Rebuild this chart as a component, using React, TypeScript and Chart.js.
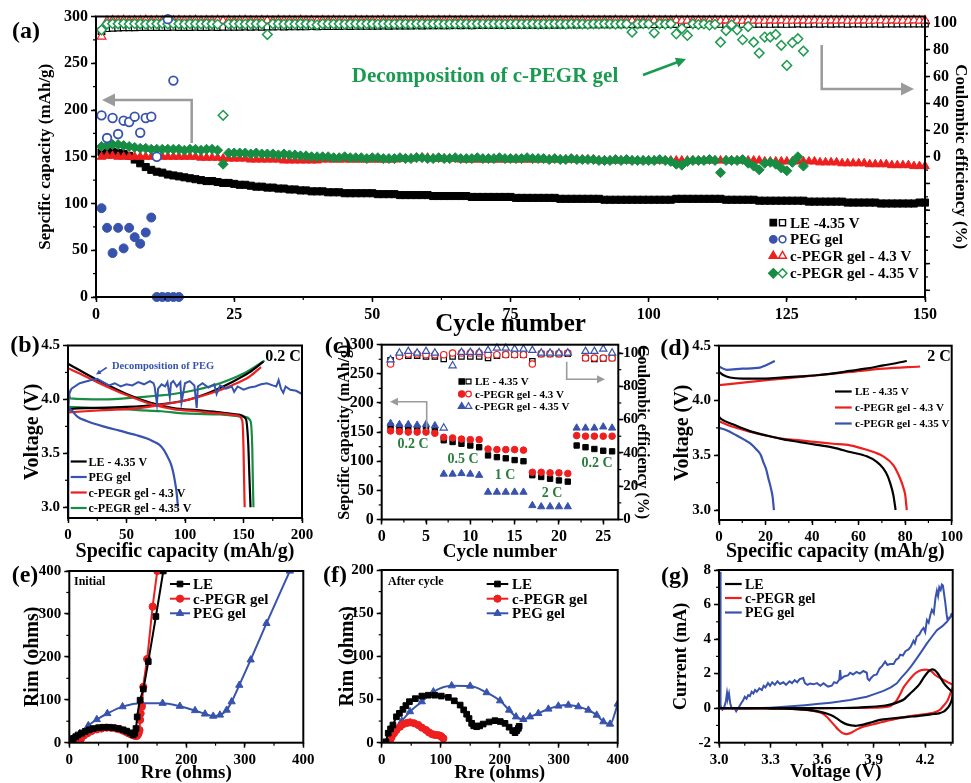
import React, { useEffect, useRef } from 'react';
import { Chart, registerables } from 'chart.js';

Chart.register(...registerables);

const SERIF = '"Liberation Serif", "Times New Roman", Times, serif';
const BLACK = '#000000';
const RED = '#ee1f1f';
const BLUE = '#3853ad';
const GREEN = '#178c43';
const GREEN_OPEN = '#1f9a50';
const GREEN_TEXT = '#1a9a50';
const RATE_GREEN = '#2b7c3c';
const GRAY = '#9b9b9b';
const WHITE = '#ffffff';

// ================= (a) long-term cycling =================
const aXTicks = [0, 25, 50, 75, 100, 125, 150];
const aXLabels = ['0', '25', '50', '75', '100', '125', '150'];
const aYTicks = [0, 50, 100, 150, 200, 250, 300];
const aYLabels = ['0', '50', '100', '150', '200', '250', '300'];
const aY2Ticks = [0, 20, 40, 60, 80, 100];
const aY2Labels = ['0', '20', '40', '60', '80', '100'];

const aLECap = [
  155, 156, 155, 154, 153, 151, 147, 143, 139, 136,
  134, 133, 131, 130, 129, 128, 127, 126, 125, 124,
  124, 123, 122, 122, 121, 120, 120, 119, 118, 118,
  117, 117, 116, 116, 115, 115, 114, 114, 113, 113,
  113, 112, 112, 112, 111, 111, 111, 111, 111, 111,
  110, 110, 110, 110, 109, 109, 109, 109, 109, 109,
  108, 108, 108, 108, 108, 108, 108, 107, 107, 107,
  107, 107, 107, 107, 107, 106, 106, 106, 106, 106,
  106, 106, 106, 105, 105, 105, 105, 105, 105, 105,
  105, 104, 104, 104, 104, 104, 104, 104, 104, 104,
  104, 104, 104, 104, 105, 105, 105, 105, 105, 105,
  105, 105, 105, 104, 104, 104, 104, 104, 104, 103,
  103, 103, 103, 103, 103, 103, 103, 103, 102, 102,
  102, 102, 102, 102, 102, 101, 101, 101, 101, 101,
  101, 100, 100, 100, 100, 100, 100, 100, 101, 101,
];
const aLECE = [
  94, 96.2, 96.5, 96.6, 96.8, 96.8, 96.9, 97, 97, 97,
  97, 97.1, 97, 97.2, 97, 97.1, 97, 97.2, 97.1, 97,
  97.2, 97.1, 97.3, 97.2, 97.3, 97.2, 97.4, 97.3, 97.4, 97.3,
  97.5, 97.4, 97.5, 97.4, 97.6, 97.5, 97.6, 97.5, 97.7, 97.6,
  97.7, 97.8, 97.7, 97.8, 97.9, 97.8, 97.9, 98, 97.9, 98,
  98, 98.1, 98, 98.1, 98.2, 98.1, 98.2, 98.3, 98.2, 98.3,
  98.3, 98.4, 98.3, 98.4, 98.5, 98.4, 98.5, 98.4, 98.5, 98.6,
  98.5, 98.6, 98.6, 98.7, 98.6, 98.7, 98.7, 98.8, 98.7, 98.8,
  98.8, 98.9, 98.8, 98.9, 98.9, 99, 98.9, 99, 99, 99.1,
  99, 99.1, 99.1, 99.2, 99.1, 99.2, 99.2, 99.1, 99.2, 99.3,
  99.2, 99.3, 99.2, 99.3, 99.3, 99.2, 99.3, 99.4, 99.3, 99.4,
  99.3, 99.4, 99.4, 99.3, 99.4, 99.5, 99.4, 99.5, 99.4, 99.5,
  99.5, 99.4, 99.5, 99.5, 99.4, 99.5, 99.6, 99.5, 99.5, 99.6,
  99.5, 99.6, 99.5, 99.6, 99.6, 99.5, 99.6, 99.6, 99.5, 99.6,
  99.6, 99.5, 99.6, 99.6, 99.7, 99.6, 99.6, 99.7, 99.6, 99.7,
];
const aRedCap = [
  150, 151, 151, 150, 150, 150, 150, 150, 150, 150,
  150, 150, 150, 150, 150, 150, 150, 150, 149, 149,
  149, 149, 148, 148, 148, 148, 148, 147, 147, 147,
  147, 147, 147, 146, 146, 146, 146, 146, 146, 146,
  147, 147, 147, 147, 147, 147, 147, 147, 147, 147,
  147, 147, 147, 147, 148, 148, 148, 149, 149, 149,
  148, 148, 148, 148, 148, 147, 147, 147, 147, 147,
  147, 147, 147, 147, 147, 147, 147, 147, 147, 147,
  147, 147, 147, 147, 147, 147, 147, 147, 147, 147,
  146, 146, 146, 146, 146, 146, 146, 146, 146, 146,
  146, 146, 146, 146, 146, 146, 146, 146, 146, 146,
  146, 146, 146, 146, 146, 146, 146, 146, 146, 146,
  145, 145, 145, 145, 145, 145, 145, 145, 145, 145,
  144, 144, 144, 144, 143, 143, 143, 143, 143, 142,
  142, 142, 142, 141, 141, 141, 141, 140, 140, 140,
];
const aRedCE = [
  90, 101.6, 102.1, 101.8, 102.2, 101.7, 102.0, 101.9, 102.3, 101.8,
  102.0, 101.7, 102.2, 101.9, 102.1, 101.8, 102.0, 102.3, 101.7, 102.0,
  101.9, 102.2, 101.8, 102.1, 101.7, 102.0, 102.2, 101.9, 101.8, 102.1,
  102.0, 101.7, 102.2, 101.9, 102.1, 101.8, 102.3, 101.9, 102.0, 101.7,
  102.1, 101.9, 102.2, 101.8, 102.0, 101.7, 102.2, 101.9, 102.1, 101.8,
  102.0, 102.3, 101.8, 102.1, 101.9, 102.0, 101.7, 102.2, 101.9, 102.0,
  101.8, 102.1, 101.9, 102.2, 101.7, 102.0, 101.9, 102.1, 101.8, 102.2,
  102.0, 101.8, 102.1, 101.9, 102.2, 101.7, 102.0, 101.9, 102.1, 101.8,
  102.0, 102.2, 101.8, 102.1, 101.9, 102.0, 101.7, 102.2, 101.9, 102.0,
  101.8, 102.1, 101.9, 102.2, 101.8, 102.0, 101.9, 102.1, 101.7, 102.2,
  102.0, 101.8, 102.1, 101.9, 102.2, 101.8, 102.0, 101.9, 102.1, 101.8,
  102.0, 102.2, 101.8, 102.1, 101.9, 102.0, 101.8, 102.2, 101.9, 102.0,
  101.8, 102.1, 101.9, 102.2, 101.8, 102.0, 101.9, 102.1, 101.8, 102.2,
  102.0, 101.8, 102.1, 101.9, 102.2, 101.8, 102.0, 101.9, 102.1, 101.8,
  102.0, 102.2, 101.8, 102.1, 101.9, 102.0, 101.8, 102.2, 101.9, 102.0,
];
const aGreenCap = [
  161, 162, 163, 163, 162, 161, 160, 159, 159, 158,
  158, 158, 158, 158, 158, 157, 158, 158, 157, 158,
  158, 157, 142, 154, 154, 154, 154, 153, 154, 153,
  153, 153, 152, 153, 152, 152, 151, 151, 150, 150,
  150, 150, 149, 149, 150, 149, 149, 149, 148, 149,
  149, 148, 148, 148, 149, 148, 148, 149, 149, 148,
  148, 149, 148, 148, 149, 148, 148, 148, 149, 148,
  148, 148, 149, 148, 148, 148, 148, 149, 148, 148,
  148, 147, 148, 147, 147, 148, 147, 147, 147, 147,
  146, 146, 146, 147, 146, 147, 146, 146, 146, 146,
  146, 147, 146, 145, 142, 141, 145, 146, 146, 146,
  147, 146, 133, 146, 146, 146, 147, 143, 140, 136,
  143, 144, 142, 138, 135, 144, 150, 140,
];
const aGreenCE = [
  95, 99.4, 99.6, 99.5, 99.7, 99.4, 99.6, 99.5, 99.3, 99.6,
  99.5, 99.7, 99.4, 99.6, 99.5, 99.3, 99.6, 99.5, 99.4, 99.6,
  99.5, 99.2, 31, 99.4, 99.6, 99.5, 99.3, 99.6, 99.5, 99.4,
  91.5, 99.5, 99.6, 99.3, 99.5, 99.4, 99.6, 99.5, 99.3, 98.8,
  99.5, 99.6, 99.4, 99.5, 99.3, 99.6, 99.5, 99.4, 99.6, 99.5,
  99.3, 99.6, 99.5, 99.4, 99.6, 99.5, 99.3, 99.5, 99.6, 99.4,
  99.5, 99.6, 99.3, 99.5, 99.4, 99.6, 99.5, 99.3, 99.6, 99.5,
  99.4, 99.6, 99.5, 99.3, 99.5, 99.6, 99.4, 99.5, 99.6, 99.3,
  99.5, 99.4, 99.6, 99.5, 99.3, 99.6, 99.5, 99.4, 99.2, 99.5,
  99.4, 99.6, 99.5, 99.3, 99.5, 99.4, 93.3, 99.5, 99.6, 99.4,
  92.8, 99.5, 99.3, 99.6, 92.0, 96.0, 90.8, 99.5, 99.0, 99.4,
  98.5, 99.2, 85.8, 94.5, 98.8, 95.0, 87.6, 97.5, 85.8, 77.6,
  89.6, 89.6, 91.6, 83.4, 68.4, 85.4, 88.4, 79.1,
];
const aPegCap = [95, 74, 47, 74, 52, 74, 64, 57, 69, 85, 0, 0, 0, 0, 0];
const aPegCE = [31, 14, 29, 17, 27, 26, 30, 18, 29, 30, 0, null, 103, 57, null];

// ================= (b) 0.2 C profiles =================
const bXTicks = [0, 50, 100, 150, 200];
const bXLabels = ['0', '50', '100', '150', '200'];
const bYTicks = [3, 3.5, 4, 4.5];
const bYLabels = ['3.0', '3.5', '4.0', '4.5'];
const bLEChg = [[0, 3.9], [2, 3.91], [20, 3.92], [50, 3.93], [75, 3.95], [100, 3.99], [120, 4.06], [140, 4.16], [155, 4.25], [167, 4.35]];
const bLEDis = [[0, 4.33], [10, 4.27], [27, 4.17], [50, 4.05], [70, 3.97], [90, 3.92], [110, 3.9], [130, 3.88], [145, 3.86], [152, 3.82], [154, 3.6], [155, 3.3], [156, 3.0]];
const bRedChg = [[0, 3.88], [30, 3.9], [60, 3.92], [80, 3.95], [100, 3.99], [120, 4.05], [140, 4.13], [155, 4.21], [165, 4.3]];
const bRedDis = [[0, 4.29], [10, 4.24], [25, 4.16], [50, 4.04], [70, 3.96], [90, 3.91], [110, 3.89], [130, 3.87], [145, 3.85], [149, 3.8], [150, 3.55], [150.5, 3.25], [151, 3.0]];
const bGrnChg = [[0, 4.1], [2, 4.01], [30, 4.0], [60, 4.02], [90, 4.05], [110, 4.09], [130, 4.15], [150, 4.24], [168, 4.36]];
const bGrnDis = [[0, 3.93], [30, 3.92], [60, 3.9], [80, 3.89], [100, 3.87], [130, 3.86], [150, 3.84], [156, 3.8], [157.5, 3.55], [158, 3.25], [158.5, 3.0]];
const bPegChg = [[0, 2.92], [0.3, 3.9], [1, 4.05], [3, 4.1], [10, 4.15], [20, 4.18], [25, 4.19], [30, 4.16], [35, 4.13], [40, 4.15], [45, 4.12], [50, 4.14], [55, 4.13], [60, 4.16], [65, 4.14], [70, 4.17], [73, 4.15], [74, 4.12], [76, 3.96], [77, 4.1], [80, 4.14], [83, 4.12], [85, 4.16], [87, 4.02], [88, 4.15], [90, 4.17], [93, 4.12], [96, 4.16], [97, 3.97], [100, 4.15], [104, 4.17], [108, 4.13], [110, 3.92], [111, 4.12], [115, 4.15], [120, 4.11], [125, 4.14], [127, 4.05], [130, 4.13], [135, 4.1], [140, 4.12], [142, 4.07], [145, 4.12], [150, 4.09], [155, 4.11], [160, 4.12], [165, 4.14], [170, 4.15], [175, 4.13], [178, 4.12], [180, 4.18], [182, 4.1], [184, 4.06], [186, 4.12], [190, 4.09], [195, 4.08], [200, 4.05]];
const bPegDis = [[0, 3.92], [3, 3.9], [8, 3.84], [16, 3.8], [30, 3.75], [44, 3.71], [58, 3.67], [67, 3.64], [73, 3.61], [78, 3.58], [82, 3.53], [85, 3.47], [88, 3.4], [90, 3.32], [92, 3.2], [93, 3.12], [94, 3.0]];

// ================= (c) rate capability =================
const cXTicks = [0, 5, 10, 15, 20, 25];
const cXLabels = ['0', '5', '10', '15', '20', '25'];
const cYTicks = [0, 50, 100, 150, 200, 250, 300];
const cYLabels = ['0', '50', '100', '150', '200', '250', '300'];
const cY2Ticks = [0, 20, 40, 60, 80, 100];
const cY2Labels = ['0', '20', '40', '60', '80', '100'];
const cCycles = [1, 2, 3, 4, 5, 6, 7, 8, 9, 10, 11, 12, 13, 14, 15, 16, 17, 18, 19, 20, 21, 22, 23, 24, 25, 26];
const cLECap = [160, 158, 158, 157, 156, 153, 136, 133, 130, 127, 124, 110, 107, 105, 102, 100, 76, 73, 70, 67, 65, 127, 124, 121, 118, 117];
const cRedCap = [152, 151, 150, 150, 150, 148, 141, 140, 138, 137, 137, 121, 120, 120, 120, 119, 81, 81, 80, 80, 79, 144, 143, 143, 143, 143];
const cBluCap = [165, 163, 163, 162, 163, 161, 78, 78, 79, 78, 76, 47, 47, 47, 47, 47, 24, 22, 22, 22, 22, 157, 157, 157, 159, 157];
const cLECE = [95.6, 98.4, 98.4, 98.4, 98, 98, 96.4, 98, 98, 98, 98, 97, 98.4, 99, 99, 99, 95, 99.4, 99.4, 99.4, 99.6, null, 97, 96.4, 96.8, 97];
const cRedCE = [93.4, 98, 99.4, 99.4, 99, 99, 99, 100, 100, 100, 100, 99, 99, 99, 99, 99, 93.4, 99.6, 99.6, 99.6, 100, null, 97, 97, 97, 97];
const cBluCE = [96, 100, 101, 100, 101, 100, 55, 92.4, 100.4, 100.4, 100.4, 101.6, 103, 103, 102.4, 102.4, 101.6, 100, 100, 100, 100, null, 101, 101, 102.4, 100];

// ================= (d) 2 C profiles =================
const dXTicks = [0, 20, 40, 60, 80, 100];
const dXLabels = ['0', '20', '40', '60', '80', '100'];
const dYTicks = [3, 3.5, 4, 4.5];
const dYLabels = ['3.0', '3.5', '4.0', '4.5'];
const dLEChg = [[0, 4.26], [2, 4.23], [4.7, 4.21], [10, 4.2], [20, 4.2], [27.7, 4.21], [35, 4.22], [42, 4.23], [50, 4.25], [56.3, 4.27], [63, 4.29], [70.6, 4.32], [76, 4.34], [80.7, 4.36]];
const dLEDis = [[0, 3.85], [1, 3.83], [6.2, 3.78], [13.3, 3.72], [20.5, 3.68], [27.7, 3.645], [34.8, 3.62], [42, 3.595], [49.1, 3.57], [56.3, 3.53], [63.5, 3.49], [67.8, 3.44], [70.6, 3.38], [72.5, 3.31], [73.5, 3.25], [74.9, 3.14], [75.9, 3.0]];
const dRedChg = [[0, 4.14], [13.3, 4.17], [27.7, 4.2], [42, 4.23], [56.3, 4.26], [70.6, 4.29], [86.4, 4.31]];
const dRedDis = [[0, 3.81], [6, 3.76], [13.3, 3.715], [20, 3.68], [27.7, 3.65], [35, 3.635], [42, 3.62], [49, 3.605], [56.3, 3.59], [63.5, 3.55], [67, 3.525], [70.6, 3.49], [74.9, 3.41], [77.8, 3.29], [79.3, 3.2], [80, 3.14], [80.7, 3.0]];
const dBluChg = [[0, 4.31], [3.3, 4.28], [10, 4.29], [17.6, 4.3], [20, 4.32], [24, 4.36]];
const dBluDis = [[0, 3.75], [3, 3.73], [7.6, 3.68], [11, 3.64], [13.3, 3.61], [16.2, 3.55], [18, 3.5], [19, 3.44], [20.3, 3.37], [21.2, 3.29], [22.3, 3.2], [23.1, 3.11], [23.6, 3.0]];

// ================= (e) impedance, initial =================
const eXTicks = [0, 100, 200, 300, 400];
const eXLabels = ['0', '100', '200', '300', '400'];
const eYTicks = [0, 100, 200, 300, 400];
const eYLabels = ['0', '100', '200', '300', '400'];
const eLE = [[1, 0], [4, 5], [7, 10], [11, 14], [15, 18], [21, 22], [27, 26], [34, 30], [41, 33], [50, 35], [58, 36], [66, 36], [75, 35], [84, 33], [92, 30], [98, 27], [104, 23], [109, 18], [112, 22], [114, 33], [116, 60], [121, 99], [126.5, 125], [135, 189], [148, 294], [160.7, 400]];
const eRed = [[18, 0], [19, 6], [21, 12], [25, 17], [31, 22], [38, 27], [47, 31], [55, 33], [64, 35], [72, 34.5], [80, 33], [86, 31], [92, 28], [97, 25], [101, 22], [105, 20], [109, 18], [112, 16], [115, 15.5], [117, 18], [118.5, 22], [120, 29.5], [121, 53], [122, 68], [124, 84], [126.5, 130], [133, 195], [142.5, 317], [150.4, 400]];
const ePEG = [[8, 0], [18, 22], [32.5, 40], [47, 54], [65, 68], [91, 84], [124, 92], [159.5, 92], [189, 85], [215, 75], [232, 67], [246, 62], [257.5, 64.5], [269, 76], [277.5, 95.5], [290.6, 134], [310, 193], [337, 278], [377, 400]];

// ================= (f) impedance, after cycle =================
const fXTicks = [0, 100, 200, 300, 400];
const fXLabels = ['0', '100', '200', '300', '400'];
const fYTicks = [0, 50, 100, 150, 200];
const fYLabels = ['0', '50', '100', '150', '200'];
const fLE = [[7, 1], [11, 11], [15, 16], [19, 20.5], [25, 30], [30, 34], [36, 38.6], [41, 43], [47, 47.5], [57, 51], [68, 54], [79, 55], [90, 55], [101, 54], [113, 52.5], [123, 48.5], [133, 43.6], [139, 38], [144, 33], [148, 28], [152.5, 22.4], [156, 19.5], [161, 18.5], [166, 19.5], [172, 21.6], [182, 24], [192, 25.5], [201, 24.5], [209, 22.4], [216, 18], [222, 14], [226, 11.6], [229, 14], [231.6, 16.6], [233, 19]];
const fRed = [[13, 1], [15, 4], [17, 7], [21, 11], [25, 14.7], [31, 18.5], [37, 21.6], [43, 23], [48, 23.5], [55, 22.5], [62, 20.5], [68, 17.5], [75, 14.7], [80, 12], [85, 10], [89, 9.2], [93, 8.9], [97, 8.5], [100, 7.7], [102, 6.5], [104.5, 5]];
const fPEG = [[8.5, 1], [14, 7.7], [22.6, 14.7], [34, 25], [48, 36], [68, 47.5], [87.6, 59], [118.6, 66], [150, 65.6], [178, 58], [200.6, 48.6], [216, 37.8], [227.7, 30], [240, 27], [251.4, 30], [265.5, 34], [282.5, 39], [299.4, 42.5], [316.4, 43.6], [333.3, 41.7], [350.3, 37.8], [364.4, 32], [375.7, 24.3], [387, 21.6], [400, 44.8]];

// ================= (g) cyclic voltammetry =================
const gXTicks = [3.0, 3.3, 3.6, 3.9, 4.2];
const gXLabels = ['3.0', '3.3', '3.6', '3.9', '4.2'];
const gYTicks = [-2, 0, 2, 4, 6, 8];
const gYLabels = ['-2', '0', '2', '4', '6', '8'];
const gLE = [[3.0, 0], [3.3, 0], [3.5, 0], [3.7, 0.01], [3.763, 0.02], [3.85, 0.06], [3.957, 0.14], [4.0, 0.22], [4.035, 0.32], [4.075, 0.5], [4.113, 0.85], [4.145, 1.15], [4.17, 1.44], [4.19, 1.75], [4.21, 2.02], [4.225, 2.17], [4.24, 2.25], [4.255, 2.2], [4.27, 2.05], [4.29, 1.75], [4.307, 1.47], [4.33, 1.2], [4.346, 1.05], [4.36, 0.9], [4.358, 0.6], [4.348, 0.3], [4.336, 0.08], [4.32, -0.1], [4.307, -0.2], [4.28, -0.3], [4.249, -0.34], [4.2, -0.4], [4.151, -0.46], [4.1, -0.5], [4.054, -0.55], [4.0, -0.6], [3.957, -0.65], [3.92, -0.72], [3.88, -0.84], [3.84, -0.95], [3.8, -1.02], [3.77, -1.0], [3.744, -0.94], [3.715, -0.8], [3.685, -0.59], [3.65, -0.4], [3.608, -0.26], [3.55, -0.14], [3.47, -0.07], [3.378, -0.03], [3.278, -0.02], [3.15, -0.01], [3.0, 0]];
const gRed = [[3.0, 0], [3.5, 0], [3.8, 0.01], [3.9, 0.03], [3.96, 0.06], [3.996, 0.12], [4.015, 0.25], [4.035, 0.47], [4.055, 0.82], [4.074, 1.2], [4.1, 1.55], [4.132, 1.92], [4.155, 2.1], [4.18, 2.21], [4.2, 2.23], [4.22, 2.21], [4.24, 2.1], [4.258, 1.92], [4.28, 1.78], [4.307, 1.63], [4.335, 1.48], [4.36, 1.34], [4.36, 1.24], [4.35, 0.95], [4.338, 0.62], [4.326, 0.37], [4.305, 0.12], [4.287, -0.08], [4.26, -0.22], [4.23, -0.3], [4.17, -0.39], [4.113, -0.46], [4.06, -0.55], [4.016, -0.65], [3.97, -0.75], [3.92, -0.88], [3.88, -0.97], [3.84, -1.07], [3.81, -1.2], [3.78, -1.36], [3.76, -1.46], [3.74, -1.5], [3.725, -1.47], [3.715, -1.42], [3.695, -1.25], [3.676, -1.04], [3.65, -0.75], [3.627, -0.5], [3.6, -0.3], [3.569, -0.21], [3.52, -0.12], [3.452, -0.06], [3.3, -0.02], [3.0, 0]];
const gPEG = [[3.0, 0], [3.005, 0.1], [3.007, 7.9], [3.009, 0.2], [3.014, -0.05], [3.02, -0.1], [3.03, 0.05], [3.04, 0.4], [3.047, 0.9], [3.052, 0.6], [3.058, 0.85], [3.065, 0.3], [3.072, 0.05], [3.08, -0.05], [3.09, 0.0], [3.1, -0.18], [3.108, -0.05], [3.118, 0.1], [3.13, 0.3], [3.14, 0.45], [3.15, 0.66], [3.16, 0.55], [3.17, 0.75], [3.18, 0.7], [3.19, 0.95], [3.2, 0.85], [3.21, 1.05], [3.22, 0.95], [3.235, 1.15], [3.25, 1.05], [3.26, 1.3], [3.27, 1.2], [3.285, 1.45], [3.297, 1.3], [3.31, 1.5], [3.325, 1.35], [3.34, 1.55], [3.355, 1.4], [3.375, 1.5], [3.39, 1.35], [3.41, 1.55], [3.425, 1.45], [3.44, 1.62], [3.455, 1.5], [3.47, 1.68], [3.49, 1.75], [3.5, 1.45], [3.515, 1.35], [3.53, 1.42], [3.55, 1.38], [3.57, 1.45], [3.59, 1.3], [3.608, 1.44], [3.62, 1.35], [3.635, 1.25], [3.656, 1.3], [3.67, 1.5], [3.685, 1.45], [3.7, 1.65], [3.705, 2.2], [3.71, 1.7], [3.73, 1.85], [3.75, 1.9], [3.763, 2.05], [3.78, 1.95], [3.8, 2.1], [3.82, 2.0], [3.84, 2.15], [3.86, 2.05], [3.865, 1.7], [3.875, 1.6], [3.885, 1.75], [3.9, 1.9], [3.918, 1.95], [3.935, 2.3], [3.95, 2.45], [3.967, 2.7], [3.98, 2.5], [3.995, 2.55], [4.016, 2.55], [4.03, 2.8], [4.045, 2.9], [4.054, 3.1], [4.07, 3.05], [4.085, 3.3], [4.103, 3.4], [4.115, 3.55], [4.132, 3.9], [4.14, 3.75], [4.151, 4.15], [4.165, 4.25], [4.178, 4.5], [4.19, 4.65], [4.2, 4.4], [4.21, 5.1], [4.22, 4.95], [4.23, 5.4], [4.239, 5.7], [4.25, 5.5], [4.26, 6.4], [4.268, 6.8], [4.275, 6.5], [4.282, 7.0], [4.29, 6.85], [4.297, 7.15], [4.303, 7.1], [4.31, 6.6], [4.317, 6.1], [4.325, 5.4], [4.33, 5.1], [4.34, 5.25], [4.35, 5.3], [4.355, 5.5], [4.345, 5.25], [4.326, 5.0], [4.3, 4.75], [4.268, 4.52], [4.24, 4.15], [4.21, 3.75], [4.18, 3.3], [4.151, 2.88], [4.12, 2.45], [4.093, 2.11], [4.06, 1.75], [4.035, 1.44], [4.0, 1.2], [3.957, 1.0], [3.9, 0.8], [3.86, 0.66], [3.8, 0.54], [3.763, 0.47], [3.7, 0.38], [3.65, 0.32], [3.569, 0.24], [3.5, 0.17], [3.4, 0.09], [3.3, 0.03], [3.2, -0.01], [3.1, -0.04], [3.0, -0.04]];

// ================= helpers =================
const seq = (ys: (number | null)[]) => ys.map((y, i) => ({ x: i + 1, y })).filter((p) => p.y !== null);
const onX = (xs: number[], ys: (number | null)[]) => xs.map((x, i) => ({ x, y: ys[i] })).filter((p) => p.y !== null);
const xy = (pairs: number[][]) => pairs.map(([x, y]) => ({ x, y }));

function drawMarker(ctx: CanvasRenderingContext2D, shape: string, x: number, y: number, r: number, fill: string, stroke: string, lw: number) {
  ctx.save();
  ctx.beginPath();
  if (shape === 'rect') {
    const s = r * Math.SQRT1_2;
    ctx.rect(x - s, y - s, 2 * s, 2 * s);
  } else if (shape === 'circle') {
    ctx.arc(x, y, r, 0, Math.PI * 2);
  } else if (shape === 'triangle') {
    ctx.moveTo(x, y - r);
    ctx.lineTo(x + r * 0.866, y + r * 0.5);
    ctx.lineTo(x - r * 0.866, y + r * 0.5);
    ctx.closePath();
  } else {
    ctx.moveTo(x, y - r);
    ctx.lineTo(x + r, y);
    ctx.lineTo(x, y + r);
    ctx.lineTo(x - r, y);
    ctx.closePath();
  }
  ctx.fillStyle = fill;
  ctx.fill();
  ctx.lineWidth = lw;
  ctx.strokeStyle = stroke;
  ctx.stroke();
  ctx.restore();
}

function drawArrow(ctx: CanvasRenderingContext2D, pts: number[][], color: string, lw: number, head: number) {
  const n = pts.length;
  const [x1, y1] = pts[n - 2];
  const [x2, y2] = pts[n - 1];
  const ang = Math.atan2(y2 - y1, x2 - x1);
  const c = Math.cos(ang);
  const s = Math.sin(ang);
  ctx.save();
  ctx.strokeStyle = color;
  ctx.fillStyle = color;
  ctx.lineWidth = lw;
  ctx.beginPath();
  ctx.moveTo(pts[0][0], pts[0][1]);
  for (let i = 1; i < n - 1; i++) ctx.lineTo(pts[i][0], pts[i][1]);
  ctx.lineTo(x2 - c * head * 0.8, y2 - s * head * 0.8);
  ctx.stroke();
  ctx.beginPath();
  ctx.moveTo(x2, y2);
  ctx.lineTo(x2 - head * c + head * 0.5 * s, y2 - head * s - head * 0.5 * c);
  ctx.lineTo(x2 - head * c - head * 0.5 * s, y2 - head * s + head * 0.5 * c);
  ctx.closePath();
  ctx.fill();
  ctx.restore();
}

function makeDeco(cfg: any) {
  return {
    id: 'deco',
    afterDraw(chart: any) {
      const ctx: CanvasRenderingContext2D = chart.ctx;
      const ca = chart.chartArea;
      ctx.save();
      ctx.strokeStyle = '#000';
      (cfg.minor || []).forEach((m: any) => {
        const sc = chart.scales[m.id];
        const len = m.len || 3;
        ctx.lineWidth = m.len ? 1.5 : 1.2;
        for (let v = m.from; v <= m.to + 1e-9; v += m.step) {
          const p = sc.getPixelForValue(v);
          ctx.beginPath();
          if (sc.position === 'left') { ctx.moveTo(ca.left, p); ctx.lineTo(ca.left - len, p); }
          else if (sc.position === 'right') { ctx.moveTo(ca.right, p); ctx.lineTo(ca.right + len, p); }
          else { ctx.moveTo(p, ca.bottom); ctx.lineTo(p, ca.bottom + len); }
          ctx.stroke();
        }
      });
      ctx.lineWidth = 2;
      ctx.strokeRect(ca.left, ca.top, ca.right - ca.left, ca.bottom - ca.top);
      const [ox, oy] = cfg.origin;
      ctx.translate(-ox, -oy);
      (cfg.arrows || []).forEach((a: any) => drawArrow(ctx, a.pts, a.color, a.lw, a.head));
      const lg = cfg.legend;
      if (lg) {
        lg.rows.forEach((r: any) => {
          if (lg.line) {
            ctx.save();
            ctx.strokeStyle = r.color;
            ctx.lineWidth = lg.line.w;
            ctx.beginPath();
            ctx.moveTo(lg.line.x1, r.y);
            ctx.lineTo(lg.line.x2, r.y);
            ctx.stroke();
            ctx.restore();
            if (r.shape) drawMarker(ctx, r.shape, (lg.line.x1 + lg.line.x2) / 2, r.y, r.r, r.color, r.color, 1);
          }
          (r.markers || []).forEach((m: any) => drawMarker(ctx, m.shape, m.x, r.y, m.r, m.fill, m.stroke, m.lw || 1.2));
          ctx.font = `bold ${lg.size}px ${SERIF}`;
          ctx.fillStyle = '#000';
          ctx.textAlign = 'left';
          ctx.textBaseline = 'middle';
          ctx.fillText(r.text, lg.tx, r.y + 1);
        });
      }
      (cfg.texts || []).forEach((t: any) => {
        ctx.font = `bold ${t.size}px ${SERIF}`;
        ctx.fillStyle = t.color || '#000';
        ctx.textAlign = t.align || 'center';
        ctx.textBaseline = 'middle';
        ctx.fillText(t.text, t.x, t.y);
      });
      ctx.restore();
    },
  };
}

function linAxis(p: any) {
  const vertical = p.pos === 'left' || p.pos === 'right';
  return {
    type: 'linear',
    position: p.pos,
    min: p.min,
    max: p.max,
    afterBuildTicks: (s: any) => { s.ticks = p.ticks.map((v: number) => ({ value: v })); },
    afterFit: (s: any) => {
      if (vertical) s.width = p.fit; else s.height = p.fit;
      s.paddingTop = 0; s.paddingBottom = 0; s.paddingLeft = 0; s.paddingRight = 0;
    },
    ticks: {
      autoSkip: false, maxRotation: 0, minRotation: 0, padding: p.tickPad ?? 3, color: '#000',
      font: { family: SERIF, size: p.size, weight: 'bold' },
      callback: (_v: any, i: number) => p.labels[i],
    },
    grid: { display: true, drawOnChartArea: false, drawTicks: true, tickLength: 5, tickWidth: 1.5, tickColor: '#000' },
    border: { display: false },
    title: p.title
      ? {
          display: true, text: p.title, color: '#000',
          font: { family: SERIF, size: p.tsize, weight: 'bold', lineHeight: 1 },
          padding: vertical ? { top: p.tpad, bottom: 0 } : { top: 0, bottom: p.tpad },
        }
      : { display: false },
  };
}

function baseConfig(datasets: any[], scales: any, padding: any, deco: any) {
  return {
    type: 'scatter',
    data: { datasets },
    options: {
      animation: false, responsive: false, devicePixelRatio: 1, events: [],
      layout: { padding, autoPadding: false },
      plugins: { legend: { display: false }, tooltip: { enabled: false } },
      scales,
    },
    plugins: [makeDeco(deco)],
  };
}

const dots = (label: string, data: any[], shape: string, r: number, fill: string, stroke: string, bw: number, yAxisID = 'y') => ({
  label, data, showLine: false, pointStyle: shape, pointRadius: r, pointHoverRadius: r,
  backgroundColor: fill, borderColor: stroke, pointBackgroundColor: fill, pointBorderColor: stroke,
  pointBorderWidth: bw, borderWidth: bw, yAxisID, clip: false,
});

const curve = (label: string, data: any[], color: string, o: any = {}) => ({
  label, data, showLine: true, fill: false,
  pointRadius: o.r || 0, pointHoverRadius: o.r || 0, pointStyle: o.shape || 'circle',
  pointBackgroundColor: color, pointBorderColor: color, pointBorderWidth: 1,
  borderColor: color, backgroundColor: color, borderWidth: o.w || 2,
  tension: o.mono ? 0.4 : (o.tension || 0),
  cubicInterpolationMode: o.mono ? 'monotone' : 'default',
});

// ================= panel configs =================
function configA() {
  const ds = [
    dots('PEG gel', seq(aPegCap), 'circle', 4.5, BLUE, BLUE, 1),
    dots('PEG gel CE', seq(aPegCE), 'circle', 4.3, WHITE, BLUE, 1.8, 'y2'),
    dots('c-PEGR gel - 4.35 V', seq(aGreenCap), 'rectRot', 5, GREEN, GREEN, 1),
    dots('c-PEGR gel - 4.35 V CE', seq(aGreenCE), 'rectRot', 4.8, WHITE, GREEN_OPEN, 1.5, 'y2'),
    dots('c-PEGR gel - 4.3 V', seq(aRedCap), 'triangle', 5, RED, RED, 1),
    dots('c-PEGR gel - 4.3 V CE', seq(aRedCE), 'triangle', 5, WHITE, RED, 1.2, 'y2'),
    dots('LE -4.35 V', seq(aLECap), 'rect', 5, BLACK, BLACK, 1),
    dots('LE -4.35 V CE', seq(aLECE), 'rect', 4.6, WHITE, BLACK, 1.2, 'y2'),
  ];
  const scales = {
    x: linAxis({ pos: 'bottom', min: 0, max: 150, ticks: aXTicks, labels: aXLabels, size: 16, fit: 43, title: 'Cycle number', tsize: 25, tpad: 2.5 }),
    y: linAxis({ pos: 'left', min: 0, max: 300, ticks: aYTicks, labels: aYLabels, size: 16, fit: 96, title: 'Sepcific capacity (mAh/g)', tsize: 17, tpad: 37.5 }),
    y2: linAxis({ pos: 'right', min: -105, max: 105, ticks: aY2Ticks, labels: aY2Labels, size: 16, fit: 46, title: 'Coulombic efficiency (%)', tsize: 17, tpad: 2.5 }),
  };
  const deco = {
    origin: [0, 0],
    minor: [
      { id: 'x', from: 0, to: 150, step: 12.5 },
      { id: 'y', from: 0, to: 300, step: 25 },
      { id: 'y2', from: -100, to: 100, step: 10 },
      { id: 'y2', from: -100, to: -20, step: 20, len: 5 },
    ],
    arrows: [
      { pts: [[643, 75], [686, 59]], color: GREEN_TEXT, lw: 2.5, head: 10 },
      { pts: [[191.7, 143], [191.7, 100], [102, 100]], color: GRAY, lw: 2.5, head: 13 },
      { pts: [[821.7, 45], [821.7, 89], [914, 89]], color: GRAY, lw: 2.5, head: 13 },
    ],
    legend: {
      tx: 790, size: 15,
      rows: [
        { y: 222.7, text: 'LE -4.35 V', markers: [{ shape: 'rect', x: 773.3, r: 4.6, fill: BLACK, stroke: BLACK }, { shape: 'rect', x: 782.5, r: 4.3, fill: WHITE, stroke: BLACK, lw: 1.4 }] },
        { y: 239.3, text: 'PEG gel', markers: [{ shape: 'circle', x: 773.3, r: 3.8, fill: BLUE, stroke: BLUE }, { shape: 'circle', x: 782.5, r: 3.4, fill: WHITE, stroke: BLUE, lw: 1.6 }] },
        { y: 256, text: 'c-PEGR gel - 4.3 V', markers: [{ shape: 'triangle', x: 773.3, r: 5, fill: RED, stroke: RED }, { shape: 'triangle', x: 782.5, r: 4.6, fill: WHITE, stroke: RED, lw: 1.4 }] },
        { y: 273.3, text: 'c-PEGR gel - 4.35 V', markers: [{ shape: 'rectRot', x: 773.3, r: 4.8, fill: GREEN, stroke: GREEN }, { shape: 'rectRot', x: 782.5, r: 4.4, fill: WHITE, stroke: GREEN_OPEN, lw: 1.5 }] },
      ],
    },
    texts: [
      { text: '(a)', x: 26, y: 32, size: 24 },
      { text: 'Decomposition of c-PEGR gel', x: 485, y: 77, size: 21, color: GREEN_TEXT },
    ],
  };
  return baseConfig(ds, scales, { top: 16.5, left: 0, right: 0, bottom: 0 }, deco);
}

function configB() {
  const ds = [
    curve('PEG gel', xy(bPegChg), BLUE, { w: 2 }),
    curve('PEG gel', xy(bPegDis), BLUE, { w: 2.2, mono: true }),
    curve('c-PEGR gel - 4.3 V', xy(bRedChg), RED, { w: 2.2, mono: true }),
    curve('c-PEGR gel - 4.3 V', xy(bRedDis), RED, { w: 2.2, mono: true }),
    curve('LE - 4.35 V', xy(bLEChg), BLACK, { w: 2.2, mono: true }),
    curve('LE - 4.35 V', xy(bLEDis), BLACK, { w: 2.2, mono: true }),
    curve('c-PEGR gel - 4.35 V', xy(bGrnChg), GREEN, { w: 2.2, mono: true }),
    curve('c-PEGR gel - 4.35 V', xy(bGrnDis), GREEN, { w: 2.2, mono: true }),
  ];
  const scales = {
    x: linAxis({ pos: 'bottom', min: 0, max: 200, ticks: bXTicks, labels: bXLabels, size: 15, fit: 52, title: 'Specific capacity (mAh/g)', tsize: 20, tpad: 8.3 }),
    y: linAxis({ pos: 'left', min: 2.9, max: 4.5, ticks: bYTicks, labels: bYLabels, size: 15, fit: 68, title: 'Voltage (V)', tsize: 20, tpad: 23 }),
  };
  const deco = {
    origin: [0, 325],
    minor: [{ id: 'x', from: 0, to: 200, step: 25 }, { id: 'y', from: 3, to: 4.5, step: 0.25 }],
    arrows: [{ pts: [[106.7, 367.5], [96, 374.5]], color: BLUE, lw: 1.5, head: 5 }],
    legend: {
      tx: 88.5, size: 12, line: { x1: 70.7, x2: 86.7, w: 2.2 },
      rows: [
        { y: 461.5, text: 'LE - 4.35 V', color: BLACK },
        { y: 477, text: 'PEG gel', color: BLUE },
        { y: 492.5, text: 'c-PEGR gel - 4.3 V', color: RED },
        { y: 508, text: 'c-PEGR gel - 4.35 V', color: GREEN },
      ],
    },
    texts: [
      { text: '(b)', x: 25, y: 346, size: 24 },
      { text: '0.2 C', x: 283, y: 357, size: 16 },
      { text: 'Decomposition of PEG', x: 112, y: 366, size: 10.5, color: BLUE, align: 'left' },
    ],
  };
  return baseConfig(ds, scales, { top: 20.5, left: 0, right: 18, bottom: 0 }, deco);
}

function configC() {
  const ds = [
    dots('c-PEGR gel - 4.35 V CE', onX(cCycles, cBluCE), 'triangle', 4.2, WHITE, BLUE, 1.2, 'y2'),
    dots('c-PEGR gel - 4.3 V CE', onX(cCycles, cRedCE), 'circle', 3.2, WHITE, RED, 1.2, 'y2'),
    dots('LE - 4.35 V CE', onX(cCycles, cLECE), 'rect', 3.8, WHITE, BLACK, 1.2, 'y2'),
    dots('c-PEGR gel - 4.35 V', onX(cCycles, cBluCap), 'triangle', 4.2, BLUE, BLUE, 1),
    dots('c-PEGR gel - 4.3 V', onX(cCycles, cRedCap), 'circle', 3.3, RED, RED, 1),
    dots('LE - 4.35 V', onX(cCycles, cLECap), 'rect', 3.8, BLACK, BLACK, 1),
  ];
  const scales = {
    x: linAxis({ pos: 'bottom', min: 0, max: 26.7, ticks: cXTicks, labels: cXLabels, size: 16, fit: 50.5, title: 'Cycle number', tsize: 19, tpad: 8.8 }),
    y: linAxis({ pos: 'left', min: 0, max: 300, ticks: cYTicks, labels: cYLabels, size: 16, fit: 61.7, title: 'Sepcific capacity (mAh/g)', tsize: 16, tpad: 17 }),
    y2: linAxis({ pos: 'right', min: 0, max: 105, ticks: cY2Ticks, labels: cY2Labels, size: 15, fit: 41.7, title: 'Coulombic efficiency (%)', tsize: 16, tpad: 10.3, tickPad: 0 }),
  };
  const deco = {
    origin: [320, 325],
    minor: [{ id: 'x', from: 0, to: 25, step: 2.5 }, { id: 'y', from: 0, to: 300, step: 25 }, { id: 'y2', from: 0, to: 100, step: 10 }],
    arrows: [
      { pts: [[426.7, 430], [426.7, 401.7], [390, 401.7]], color: GRAY, lw: 1.6, head: 8 },
      { pts: [[566.7, 361.7], [566.7, 379.3], [605, 379.3]], color: GRAY, lw: 1.6, head: 8 },
    ],
    legend: {
      tx: 475, size: 11,
      rows: [
        { y: 381.5, text: 'LE - 4.35 V', markers: [{ shape: 'rect', x: 461.7, r: 3.8, fill: BLACK, stroke: BLACK }, { shape: 'rect', x: 468.5, r: 3.5, fill: WHITE, stroke: BLACK }] },
        { y: 394, text: 'c-PEGR gel - 4.3 V', markers: [{ shape: 'circle', x: 461.7, r: 3.2, fill: RED, stroke: RED }, { shape: 'circle', x: 468.5, r: 2.8, fill: WHITE, stroke: RED }] },
        { y: 406.5, text: 'c-PEGR gel - 4.35 V', markers: [{ shape: 'triangle', x: 461.7, r: 4, fill: BLUE, stroke: BLUE }, { shape: 'triangle', x: 468.5, r: 3.8, fill: WHITE, stroke: BLUE }] },
      ],
    },
    texts: [
      { text: '(c)', x: 338, y: 347, size: 24 },
      { text: '0.2 C', x: 413, y: 444, size: 14, color: RATE_GREEN },
      { text: '0.5 C', x: 463, y: 459.5, size: 14, color: RATE_GREEN },
      { text: '1 C', x: 505, y: 475.7, size: 14, color: RATE_GREEN },
      { text: '2 C', x: 552, y: 493.3, size: 14, color: RATE_GREEN },
      { text: '0.2 C', x: 597, y: 463.3, size: 14, color: RATE_GREEN },
    ],
  };
  return baseConfig(ds, scales, { top: 19.7, left: 0, right: 0, bottom: 0 }, deco);
}

function configD() {
  const ds = [
    curve('LE - 4.35 V', xy(dLEChg), BLACK, { w: 2.2, mono: true }),
    curve('LE - 4.35 V', xy(dLEDis), BLACK, { w: 2.2, mono: true }),
    curve('c-PEGR gel - 4.3 V', xy(dRedChg), RED, { w: 2.2, mono: true }),
    curve('c-PEGR gel - 4.3 V', xy(dRedDis), RED, { w: 2.2, mono: true }),
    curve('c-PEGR gel - 4.35 V', xy(dBluChg), BLUE, { w: 2.2, mono: true }),
    curve('c-PEGR gel - 4.35 V', xy(dBluDis), BLUE, { w: 2.2, mono: true }),
  ];
  const scales = {
    x: linAxis({ pos: 'bottom', min: 0, max: 100, ticks: dXTicks, labels: dXLabels, size: 15, fit: 50, title: 'Specific capacity (mAh/g)', tsize: 20, tpad: 8.3 }),
    y: linAxis({ pos: 'left', min: 2.909, max: 4.5, ticks: dYTicks, labels: dYLabels, size: 15, fit: 69, title: 'Voltage (V)', tsize: 20, tpad: 23.3 }),
  };
  const deco = {
    origin: [650, 325],
    minor: [{ id: 'x', from: 0, to: 100, step: 10 }, { id: 'y', from: 3, to: 4.5, step: 0.25 }],
    legend: {
      tx: 855, size: 11, line: { x1: 835, x2: 851.7, w: 2.2 },
      rows: [
        { y: 391.5, text: 'LE - 4.35 V', color: BLACK },
        { y: 407.5, text: 'c-PEGR gel - 4.3 V', color: RED },
        { y: 423.5, text: 'c-PEGR gel - 4.35 V', color: BLUE },
      ],
    },
    texts: [
      { text: '(d)', x: 675, y: 349, size: 24 },
      { text: '2 C', x: 939, y: 357, size: 16 },
    ],
  };
  return baseConfig(ds, scales, { top: 20.7, left: 0, right: 19.3, bottom: 0 }, deco);
}

function configE() {
  const ds = [
    curve('LE', xy(eLE), BLACK, { w: 2, r: 4, shape: 'rect', mono: true }),
    curve('c-PEGR gel', xy(eRed), RED, { w: 2, r: 3.6, shape: 'circle', mono: true }),
    curve('PEG gel', xy(ePEG), BLUE, { w: 2, r: 4.2, shape: 'triangle', mono: true }),
  ];
  const scales = {
    x: linAxis({ pos: 'bottom', min: 0, max: 400, ticks: eXTicks, labels: eXLabels, size: 15, fit: 40.3, title: 'Rre (ohms)', tsize: 19, tpad: 0.2 }),
    y: linAxis({ pos: 'left', min: 0, max: 400, ticks: eYTicks, labels: eYLabels, size: 15, fit: 69.3, title: 'Rim (ohms)', tsize: 20, tpad: 23.3 }),
  };
  const deco = {
    origin: [0, 560],
    minor: [{ id: 'x', from: 0, to: 400, step: 50 }, { id: 'y', from: 0, to: 400, step: 50 }],
    legend: {
      tx: 193, size: 15, line: { x1: 170, x2: 190, w: 2 },
      rows: [
        { y: 584, text: 'LE', color: BLACK, shape: 'rect', r: 4 },
        { y: 598.7, text: 'c-PEGR gel', color: RED, shape: 'circle', r: 3.6 },
        { y: 613.3, text: 'PEG gel', color: BLUE, shape: 'triangle', r: 4.2 },
      ],
    },
    texts: [
      { text: '(e)', x: 25, y: 576, size: 24 },
      { text: 'Initial', x: 74, y: 582, size: 12, align: 'left' },
    ],
  };
  return baseConfig(ds, scales, { top: 11, left: 0, right: 16.7, bottom: 0 }, deco);
}

function configF() {
  const ds = [
    curve('LE', xy(fLE), BLACK, { w: 2, r: 4, shape: 'rect', mono: true }),
    curve('c-PEGR gel', xy(fRed), RED, { w: 2, r: 3.6, shape: 'circle', mono: true }),
    curve('PEG gel', xy(fPEG), BLUE, { w: 2, r: 4.2, shape: 'triangle', mono: true }),
  ];
  const scales = {
    x: linAxis({ pos: 'bottom', min: 0, max: 400, ticks: fXTicks, labels: fXLabels, size: 15, fit: 40.3, title: 'Rre (ohms)', tsize: 19, tpad: 0.2 }),
    y: linAxis({ pos: 'left', min: 0, max: 200, ticks: fYTicks, labels: fYLabels, size: 15, fit: 61.7, title: 'Rim (ohms)', tsize: 20, tpad: 18.3 }),
  };
  const deco = {
    origin: [320, 560],
    minor: [{ id: 'x', from: 0, to: 400, step: 50 }, { id: 'y', from: 0, to: 200, step: 25 }],
    legend: {
      tx: 512, size: 15, line: { x1: 486.7, x2: 508.3, w: 2 },
      rows: [
        { y: 584, text: 'LE', color: BLACK, shape: 'rect', r: 4 },
        { y: 598.7, text: 'c-PEGR gel', color: RED, shape: 'circle', r: 3.6 },
        { y: 613.3, text: 'PEG gel', color: BLUE, shape: 'triangle', r: 4.2 },
      ],
    },
    texts: [
      { text: '(f)', x: 335, y: 576, size: 24 },
      { text: 'After cycle', x: 388, y: 582, size: 12, align: 'left' },
    ],
  };
  return baseConfig(ds, scales, { top: 10, left: 0, right: 32.3, bottom: 0 }, deco);
}

function configG() {
  const ds = [
    curve('LE', xy(gLE), BLACK, { w: 2.2, tension: 0.2 }),
    curve('c-PEGR gel', xy(gRed), RED, { w: 2.2, tension: 0.2 }),
    curve('PEG gel', xy(gPEG), BLUE, { w: 2 }),
  ];
  const scales = {
    x: linAxis({ pos: 'bottom', min: 3.0, max: 4.36, ticks: gXTicks, labels: gXLabels, size: 15, fit: 40.3, title: 'Voltage (V)', tsize: 19, tpad: 1.8 }),
    y: linAxis({ pos: 'left', min: -2, max: 8, ticks: gYTicks, labels: gYLabels, size: 15, fit: 69, title: 'Current (mA)', tsize: 18, tpad: 22.7 }),
  };
  const deco = {
    origin: [650, 560],
    minor: [{ id: 'x', from: 3.0, to: 4.35, step: 0.15 }, { id: 'y', from: -2, to: 8, step: 1 }],
    legend: {
      tx: 745, size: 14, line: { x1: 725, x2: 741.7, w: 2.2 },
      rows: [
        { y: 584, text: 'LE', color: BLACK },
        { y: 598, text: 'c-PEGR gel', color: RED },
        { y: 612.5, text: 'PEG gel', color: BLUE },
      ],
    },
    texts: [{ text: '(g)', x: 675, y: 577, size: 24 }],
  };
  return baseConfig(ds, scales, { top: 10, left: 0, right: 18.3, bottom: 0 }, deco);
}

function ChartPanel({ box, make }: { box: number[]; make: () => any }) {
  const ref = useRef<HTMLCanvasElement | null>(null);
  useEffect(() => {
    if (!ref.current) return;
    const chart = new Chart(ref.current, make());
    return () => chart.destroy();
  }, []);
  return (
    <canvas
      ref={ref}
      width={box[2]}
      height={box[3]}
      style={{ position: 'absolute', left: box[0], top: box[1], width: box[2], height: box[3], display: 'block' }}
    />
  );
}

export default function App() {
  useEffect(() => {
    document.body.style.margin = '0';
    document.body.style.background = '#ffffff';
  }, []);
  return (
    <div style={{ position: 'absolute', left: 0, top: 0, width: 971, height: 783, background: '#ffffff', overflow: 'hidden' }}>
      <ChartPanel box={[0, 0, 971, 340]} make={configA} />
      <ChartPanel box={[0, 325, 320, 245]} make={configB} />
      <ChartPanel box={[320, 325, 340, 245]} make={configC} />
      <ChartPanel box={[650, 325, 321, 245]} make={configD} />
      <ChartPanel box={[0, 560, 320, 223]} make={configE} />
      <ChartPanel box={[320, 560, 330, 223]} make={configF} />
      <ChartPanel box={[650, 560, 321, 223]} make={configG} />
    </div>
  );
}
